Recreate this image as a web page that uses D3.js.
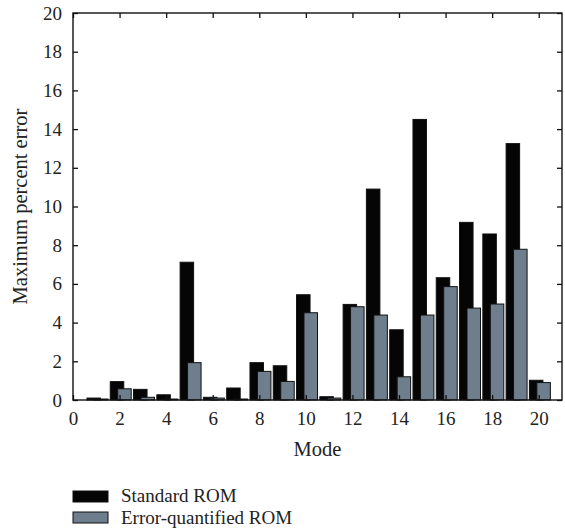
<!DOCTYPE html>
<html>
<head>
<meta charset="utf-8">
<script src="https://cdn.jsdelivr.net/npm/d3@7"></script>
<style>
  html, body { margin: 0; padding: 0; background: #fff; }
  svg { display: block; }
  svg text { font-family: "Liberation Serif", "DejaVu Serif", serif !important; }
</style>
</head>
<body>
<svg id="chart" width="565" height="531"></svg>
<script>
const modes = d3.range(1, 21);
const standardROM = [0.1, 0.95, 0.55, 0.27, 7.12, 0.14, 0.62, 1.93, 1.77, 5.44,
                     0.17, 4.94, 10.9, 3.63, 14.5, 6.32, 9.18, 8.58, 13.25, 1.02];
const errorQuantROM = [0.05, 0.58, 0.14, 0.05, 1.93, 0.1, 0.05, 1.48, 0.96, 4.51,
                       0.1, 4.82, 4.39, 1.2, 4.39, 5.86, 4.75, 4.96, 7.79, 0.9];
const xTicks = d3.range(0, 21, 2);
const yTicks = d3.range(0, 21, 2);
const seriesNames = ["Standard ROM", "Error-quantified ROM"];
const seriesColors = ["#050505", "#6e7e8c"];

const svg = d3.select("#chart");
const L = 73, R = 562, T = 13, B = 400;
const x = d3.scaleLinear().domain([0, 21]).range([L, R]);
const y = d3.scaleLinear().domain([0, 20]).range([B, T]);

const barW = 0.58;
const offsets = [-0.11, 0.21];
const series = [standardROM, errorQuantROM];

series.forEach((vals, si) => {
  svg.append("g").selectAll("rect")
    .data(modes.map((m, i) => ({ m, v: vals[i] })))
    .join("rect")
    .attr("x", d => x(d.m + offsets[si] - barW / 2))
    .attr("width", d => x(d.m + offsets[si] + barW / 2) - x(d.m + offsets[si] - barW / 2))
    .attr("y", d => y(d.v))
    .attr("height", d => y(0) - y(d.v))
    .attr("fill", seriesColors[si])
    .attr("stroke", "#111")
    .attr("stroke-width", 1);
});

const fs = 19;
const tickLen = 5;
const gx = svg.append("g").attr("transform", `translate(0,${B})`)
  .call(d3.axisBottom(x).tickValues(xTicks).tickSizeInner(-tickLen).tickSizeOuter(0).tickPadding(12));
const gy = svg.append("g").attr("transform", `translate(${L},0)`)
  .call(d3.axisLeft(y).tickValues(yTicks).tickSizeInner(-tickLen).tickSizeOuter(0).tickPadding(11));
const gt = svg.append("g").attr("transform", `translate(0,${T})`)
  .call(d3.axisTop(x).tickValues(xTicks).tickSizeInner(-tickLen).tickSizeOuter(0).tickFormat(""));
const gr = svg.append("g").attr("transform", `translate(${R},0)`)
  .call(d3.axisRight(y).tickValues(yTicks).tickSizeInner(-tickLen).tickSizeOuter(0).tickFormat(""));

[gx, gy, gt, gr].forEach(g => {
  g.attr("font-family", null).attr("font-size", fs);
  g.selectAll(".domain").remove();
  g.selectAll("line").attr("stroke", "#111").attr("stroke-width", 1.3);
  g.selectAll("text").attr("font-size", fs).attr("fill", "#222");
});

svg.append("rect").attr("x", L).attr("y", T).attr("width", R - L).attr("height", B - T)
  .attr("fill", "none").attr("stroke", "#111").attr("stroke-width", 1.4);

svg.append("text").attr("x", (L + R) / 2).attr("y", 456).attr("text-anchor", "middle")
  .attr("font-size", 20.5).attr("fill", "#222").text("Mode");

svg.append("text").attr("transform", `translate(27,${(T + B) / 2}) rotate(-90)`)
  .attr("text-anchor", "middle").attr("font-size", 20.5).attr("fill", "#222")
  .text("Maximum percent error");

const lg = svg.append("g");
seriesNames.forEach((name, i) => {
  lg.append("rect").attr("x", 73).attr("y", 491 + i * 21).attr("width", 35).attr("height", 11)
    .attr("fill", seriesColors[i]).attr("stroke", "#111").attr("stroke-width", 1);
  lg.append("text").attr("x", 121).attr("y", 502 + i * 22).attr("font-size", 19)
    .attr("fill", "#222").text(name);
});
</script>
</body>
</html>
